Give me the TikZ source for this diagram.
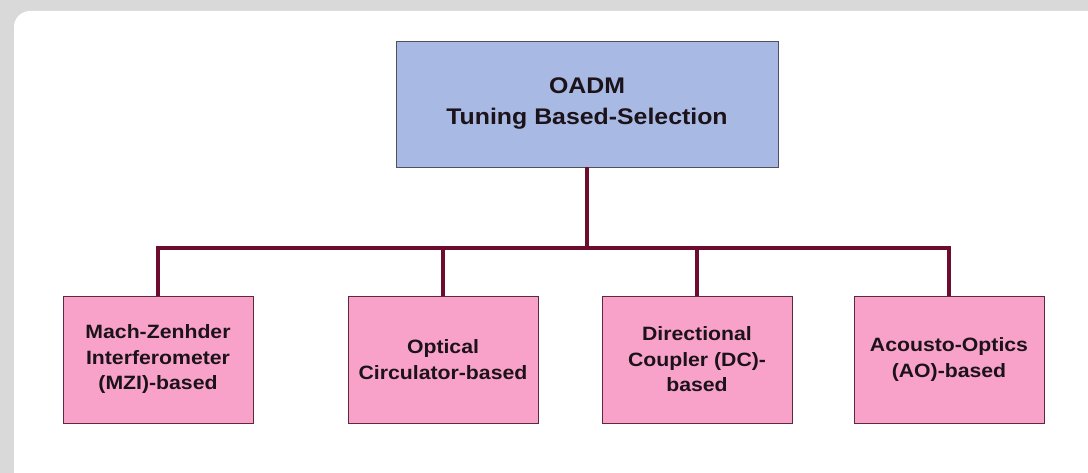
\documentclass[tikz,border=0pt]{standalone}
\usepackage{fontspec}
\setmainfont{Liberation Sans}[FakeStretch=1.1]
\definecolor{frame}{RGB}{217,217,217}
\definecolor{topfill}{RGB}{168,186,227}
\definecolor{topedge}{RGB}{80,80,95}
\definecolor{leaffill}{RGB}{248,162,201}
\definecolor{leafedge}{RGB}{95,40,65}
\definecolor{wire}{RGB}{110,12,48}
\definecolor{ink}{RGB}{28,18,26}
\tikzset{
  rootbox/.style={draw=topedge, line width=0.9pt, fill=topfill, minimum width=382pt,
    minimum height=126pt, inner sep=0pt, align=center, text=ink,
    font=\bfseries\fontsize{22.6}{31}\selectfont},
  leafbox/.style={draw=leafedge, line width=0.9pt, fill=leaffill, minimum width=190pt,
    minimum height=127pt, inner sep=0pt, align=center, text=ink,
    font=\bfseries\fontsize{19.3}{25.5}\selectfont},
  wireline/.style={draw=wire, line width=4.2pt},
}
\begin{document}
\begin{tikzpicture}[x=1pt,y=-1pt]
  % page and slide frame
  \useasboundingbox (0,0) rectangle (1088,473);
  \fill[frame] (0,0) rectangle (1088,473);
  \begin{scope}
    \clip (0,0) rectangle (1088,473);
    \fill[white, rounded corners=16pt] (14,11) rectangle (1120,520);
  \end{scope}

  % root
  \node[rootbox] (root) at (587,104) {OADM\\Tuning Based-Selection};

  % leaves
  \node[leafbox] (mzi) at (158,359.5) {Mach-Zenhder\\Interferometer\\(MZI)-based};
  \node[leafbox] (oc)  at (443,359.5) {Optical\\Circulator-based};
  \node[leafbox] (dc)  at (697,359.5) {Directional\\Coupler (DC)-\\based};
  \node[leafbox] (ao)  at (949,359.5) {Acousto-Optics\\(AO)-based};

  % tree connectors
  \coordinate (bus) at (587,248);
  \draw[wireline] (root.south) -- (bus);
  \draw[wireline] (mzi.north) |- (bus) -| (ao.north);
  \draw[wireline] (oc.north) -- (oc.north |- bus);
  \draw[wireline] (dc.north) -- (dc.north |- bus);
\end{tikzpicture}
\end{document}
